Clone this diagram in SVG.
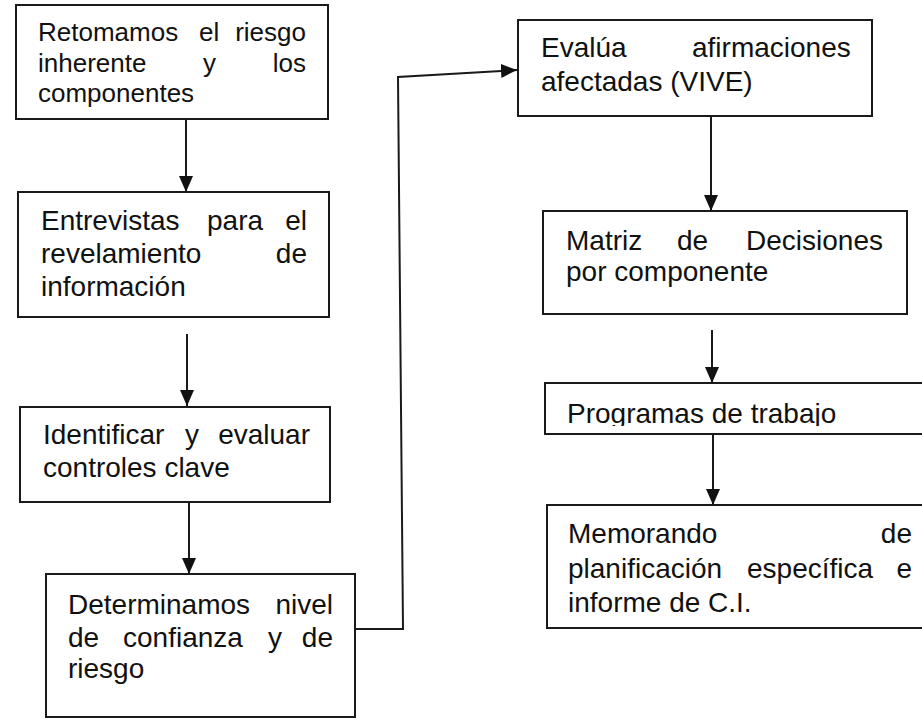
<svg xmlns="http://www.w3.org/2000/svg" width="922" height="718" viewBox="0 0 922 718">
<style>
.box{fill:#fff;stroke:#1a1a1a;stroke-width:2}
.t{font-family:"Liberation Sans",Arial,sans-serif;font-size:28px;fill:#111}
.t1{font-family:"Liberation Sans",Arial,sans-serif;font-size:26px;fill:#111}
.e{text-anchor:end}
.c{fill:none;stroke:#1a1a1a;stroke-width:2}
</style>
<defs>
<marker id="ah" markerUnits="userSpaceOnUse" markerWidth="16" markerHeight="14" refX="16" refY="7" orient="auto">
<path d="M0,0 L16,7 L0,14 z" fill="#111"/>
</marker>
<clipPath id="clipProg"><rect x="545" y="383" width="380" height="43"/></clipPath>
</defs>
<rect width="922" height="718" fill="#fff"/>
<g id="connectors">
<line class="c" x1="186" y1="119" x2="186" y2="192" marker-end="url(#ah)"/>
<line class="c" x1="187" y1="334" x2="187" y2="406" marker-end="url(#ah)"/>
<line class="c" x1="189" y1="502" x2="189" y2="574" marker-end="url(#ah)"/>
<path class="c" d="M355,629 L403,629 L398,77 L517,70" marker-end="url(#ah)"/>
<line class="c" x1="711" y1="116" x2="711" y2="211" marker-end="url(#ah)"/>
<line class="c" x1="712" y1="330" x2="712" y2="383" marker-end="url(#ah)"/>
<line class="c" x1="713" y1="434" x2="713" y2="505" marker-end="url(#ah)"/>
</g>
<g id="n1">
<rect class="box" x="16" y="5" width="312" height="114"/>
<text class="t1" x="38" y="41">Retomamos</text><text class="t1" x="199" y="41">el</text><text class="t1 e" x="306" y="41">riesgo</text>
<text class="t1" x="38" y="72">inherente</text><text class="t1" x="203" y="72">y</text><text class="t1 e" x="306" y="72">los</text>
<text class="t1" x="38" y="102">componentes</text>
</g>
<g id="n2">
<rect class="box" x="18" y="192" width="311" height="125"/>
<text class="t" x="41" y="230">Entrevistas</text><text class="t" x="207" y="230">para</text><text class="t e" x="307" y="230">el</text>
<text class="t" x="41" y="263">revelamiento</text><text class="t e" x="307" y="263">de</text>
<text class="t" x="41" y="296">información</text>
</g>
<g id="n3">
<rect class="box" x="20" y="407" width="310" height="95"/>
<text class="t" x="43" y="444">Identificar</text><text class="t" x="185" y="444">y</text><text class="t e" x="310" y="444">evaluar</text>
<text class="t" x="43" y="477">controles clave</text>
</g>
<g id="n4">
<rect class="box" x="46" y="574" width="309" height="143"/>
<text class="t" x="68" y="614">Determinamos</text><text class="t e" x="333" y="614">nivel</text>
<text class="t" x="68" y="647">de</text><text class="t" x="123" y="647">confianza</text><text class="t" x="268" y="647">y</text><text class="t e" x="333" y="647">de</text>
<text class="t" x="68" y="678">riesgo</text>
</g>
<g id="n5">
<rect class="box" x="518" y="20" width="354" height="96"/>
<text class="t" x="541" y="57">Evalúa</text><text class="t" x="692" y="57">afirmaciones</text>
<text class="t" x="541" y="91">afectadas (VIVE)</text>
</g>
<g id="n6">
<rect class="box" x="543" y="211" width="364" height="103"/>
<text class="t" x="566" y="250">Matriz</text><text class="t" x="677" y="250">de</text><text class="t e" x="883" y="250">Decisiones</text>
<text class="t" x="566" y="281">por componente</text>
</g>
<g id="n7">
<rect class="box" x="545" y="383" width="385" height="51"/>
<text class="t" x="567" y="423" clip-path="url(#clipProg)">Programas de trabajo</text>
</g>
<g id="n8">
<rect class="box" x="547" y="505" width="385" height="123"/>
<text class="t" x="568" y="543">Memorando</text><text class="t e" x="912" y="543">de</text>
<text class="t" x="568" y="578">planificación</text><text class="t" x="747" y="578">específica</text><text class="t e" x="912" y="578">e</text>
<text class="t" x="568" y="612">informe de C.I.</text>
</g>
</svg>
